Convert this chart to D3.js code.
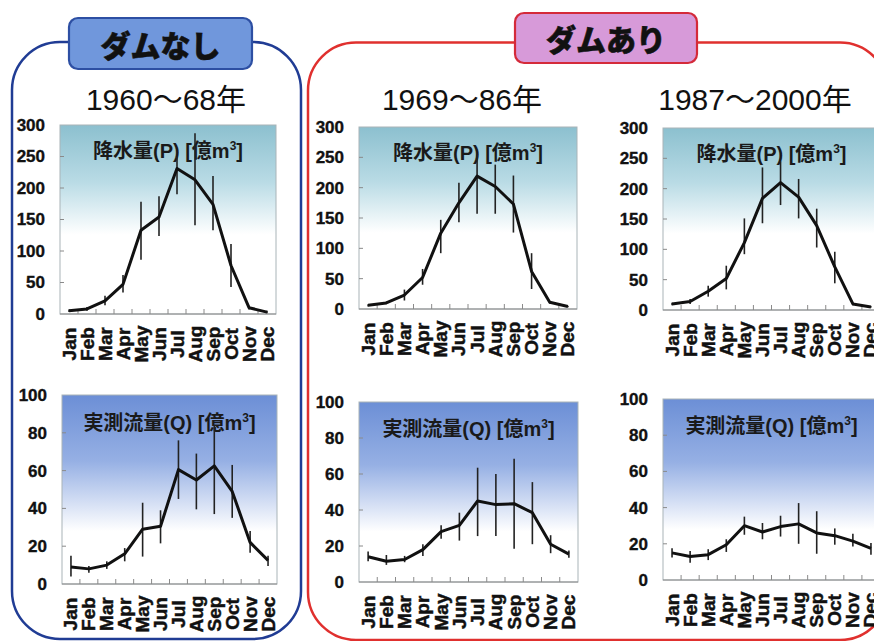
<!DOCTYPE html>
<html>
<head>
<meta charset="utf-8">
<script src="https://cdn.jsdelivr.net/npm/d3@7"></script>
<style>
  html, body { margin: 0; padding: 0; background: #fff; }
  svg { display: block; }
  text { font-family: "Liberation Sans", Arial, "Noto Sans CJK JP", sans-serif; }
</style>
</head>
<body>
<svg id="chart" width="874" height="641"></svg>
<script>
// Monthly categories
const months = ["Jan","Feb","Mar","Apr","May","Jun","Jul","Aug","Sep","Oct","Nov","Dec"];

// Precipitation P [億m3], 1960–68 (mean, upper, lower)
const p1960   = [5, 8, 21, 47, 133, 154, 231, 213, 174, 77, 10, 3];
const p1960Hi = [7, 11, 29, 62, 178, 187, 250, 287, 219, 111, 13, 5];
const p1960Lo = [3, 5, 14, 34, 86, 124, 190, 141, 133, 43, 7, 1];

// Observed discharge Q [億m3], 1960–68
const q1960   = [9, 8, 10, 16, 29, 30.5, 60.5, 55, 62.5, 49, 22, 12.5];
const q1960Hi = [15, 9.5, 12, 19, 43, 39, 76, 69, 84, 63, 28, 15];
const q1960Lo = [4, 6, 8, 12, 14.5, 21.5, 45, 39.5, 37, 35, 16.5, 9.5];

// Precipitation P, 1969–86
const p1969   = [6, 10, 23, 52, 125, 175, 219, 202, 173, 62, 11, 4];
const p1969Hi = [8, 12, 32, 66, 147, 208, 255, 238, 220, 92, 13, 5];
const p1969Lo = [4, 8, 14, 40, 92, 143, 157, 157, 126, 33, 9, 3];

// Observed discharge Q, 1969–86
const q1969   = [14, 11.5, 12.5, 18, 28, 31.5, 45, 43, 43.5, 38.5, 21, 15.5];
const q1969Hi = [17, 15, 14.5, 21, 31.5, 38.5, 63.5, 60, 68.5, 55.5, 26, 17.5];
const q1969Lo = [11.5, 9.5, 11, 14.5, 24, 23, 25.5, 25.5, 18.5, 21, 16, 13.5];

// Precipitation P, 1987–2000
const p1987   = [10, 14, 31, 52, 111, 184, 210, 186, 139, 71, 10, 5];
const p1987Hi = [12, 18, 40, 73, 151, 235, 245, 216, 167, 96, 12, 6];
const p1987Lo = [8, 10, 22, 34, 92, 143, 173, 151, 103, 44, 8, 4];

// Observed discharge Q, 1987–2000
const q1987   = [15, 13, 14, 19.5, 30, 26.5, 29.5, 31, 26, 24.5, 21.5, 17.5];
const q1987Hi = [17.5, 16, 17, 22.5, 35, 31.5, 35.5, 42.5, 38, 28.5, 25.5, 20.5];
const q1987Lo = [12.5, 9.5, 11, 15.5, 25, 22.5, 24, 20, 14.5, 19.5, 18.5, 14];

// Axis ticks
const pTicks = [0, 50, 100, 150, 200, 250, 300];
const qTicks = [0, 20, 40, 60, 80, 100];

// Headings
const groupLabels = ["ダムなし", "ダムあり"];
const periodLabels = ["1960～68年", "1969～86年", "1987～2000年"];
const pTitle = "降水量(P) [億m";
const qTitle = "実測流量(Q) [億m";

const svg = d3.select("#chart");
const defs = svg.append("defs");

// Panel background gradients
const gP = defs.append("linearGradient").attr("id", "gradP")
  .attr("x1", 0).attr("y1", 0).attr("x2", 0).attr("y2", 1);
gP.append("stop").attr("offset", "0%").attr("stop-color", "#8cc0cf");
gP.append("stop").attr("offset", "30%").attr("stop-color", "#b9dbe5");
gP.append("stop").attr("offset", "58%").attr("stop-color", "#ffffff");
gP.append("stop").attr("offset", "100%").attr("stop-color", "#ffffff");

const gQ = defs.append("linearGradient").attr("id", "gradQ")
  .attr("x1", 0).attr("y1", 0).attr("x2", 0).attr("y2", 1);
gQ.append("stop").attr("offset", "0%").attr("stop-color", "#6c8fd6");
gQ.append("stop").attr("offset", "35%").attr("stop-color", "#96b0e4");
gQ.append("stop").attr("offset", "72%").attr("stop-color", "#ffffff");
gQ.append("stop").attr("offset", "100%").attr("stop-color", "#ffffff");

// Rounded frames around the two groups
function frame(x0, y0, x1, y1, r, color) {
  svg.append("rect")
    .attr("x", x0).attr("y", y0)
    .attr("width", x1 - x0).attr("height", y1 - y0)
    .attr("rx", r).attr("ry", r)
    .attr("fill", "none").attr("stroke", color).attr("stroke-width", 2.5);
}
frame(12, 42, 301, 639, 48, "#203c94");
frame(308, 42.5, 888, 640, 48, "#e0302e");

// Group badges
function badge(x0, y0, x1, y1, fill, stroke, label, ty) {
  svg.append("rect")
    .attr("x", x0).attr("y", y0)
    .attr("width", x1 - x0).attr("height", y1 - y0)
    .attr("rx", 9).attr("ry", 9)
    .attr("fill", fill).attr("stroke", stroke).attr("stroke-width", 2.2);
  svg.append("text")
    .attr("x", (x0 + x1) / 2).attr("y", ty)
    .attr("text-anchor", "middle")
    .attr("font-family", "'Noto Sans CJK JP', sans-serif")
    .attr("font-weight", 900).attr("font-size", 30)
    .attr("fill", "#111").attr("stroke", "#111").attr("stroke-width", 0.6)
    .text(label);
}
badge(69, 18, 252, 69, "#7097dc", "#2d4fa3", groupLabels[0], 57);
badge(515, 13, 697, 63, "#d79ad9", "#d42a3a", groupLabels[1], 51);

// Period headings
const headX = [166, 462, 755];
periodLabels.forEach((t, i) => {
  svg.append("text")
    .attr("x", headX[i]).attr("y", 110)
    .attr("text-anchor", "middle")
    .attr("font-size", 30).attr("fill", "#111")
    .text(t);
});

// One panel: background, axes, line and error bars
function panel(cfg) {
  const { x0, x1, y0, y1, max, ticks, grad, title, vals, hi, lo } = cfg;
  const g = svg.append("g");
  const x = d3.scaleBand().domain(months).range([x0, x1]).padding(0);
  const y = d3.scaleLinear().domain([0, max]).range([y1, y0]);

  g.append("rect")
    .attr("x", x0).attr("y", y0)
    .attr("width", x1 - x0).attr("height", y1 - y0)
    .attr("fill", `url(#${grad})`)
    .attr("stroke", "#a9b4b8").attr("stroke-width", 1);

  // y axis labels and inner ticks
  const yAxis = d3.axisLeft(y).tickValues(ticks).tickSize(0).tickPadding(15);
  const ya = g.append("g").attr("transform", `translate(${x0},0)`).call(yAxis);
  ya.select(".domain").remove();
  ya.selectAll("text")
    .attr("font-family", "'Liberation Sans', Arial, sans-serif")
    .attr("font-weight", "bold").attr("font-size", 17).attr("fill", "#111")
    .attr("stroke", "#111").attr("stroke-width", 0.35);
  g.selectAll(".ytick").data(ticks.slice(1, -1)).enter().append("line")
    .attr("x1", x0).attr("x2", x0 + 4)
    .attr("y1", d => y(d)).attr("y2", d => y(d))
    .attr("stroke", "#8a8a8a").attr("stroke-width", 1);

  // x axis line, category boundary ticks and rotated month labels
  g.append("line").attr("x1", x0).attr("x2", x1).attr("y1", y1).attr("y2", y1)
    .attr("stroke", "#8a8a8a").attr("stroke-width", 1.2);
  g.selectAll(".xtick").data(months.slice(1)).enter().append("line")
    .attr("x1", d => x(d)).attr("x2", d => x(d))
    .attr("y1", y1).attr("y2", y1 - 5)
    .attr("stroke", "#8a8a8a").attr("stroke-width", 1);
  g.selectAll(".mlabel").data(months).enter().append("text")
    .attr("transform", d => `translate(${x(d) + x.bandwidth() / 2},${y1 + 30}) rotate(-90)`)
    .attr("text-anchor", "middle").attr("dominant-baseline", "central")
    .attr("font-weight", "bold").attr("font-size", 19).attr("fill", "#111")
    .attr("stroke", "#111").attr("stroke-width", 0.45)
    .text(d => d);

  // panel title
  const t = g.append("text")
    .attr("x", (x0 + x1) / 2).attr("y", y0 + cfg.titleDy)
    .attr("text-anchor", "middle")
    .attr("font-family", "'Liberation Sans', Arial, 'Noto Sans CJK JP', sans-serif")
    .attr("font-weight", "bold").attr("font-size", 20).attr("fill", "#1a1a1a");
  t.append("tspan").text(title);
  t.append("tspan").attr("font-size", 12).attr("dy", -8).text("3");
  t.append("tspan").attr("dy", 8).text("]");

  const cx = d => x(d) + x.bandwidth() / 2;

  // error bars
  g.selectAll(".err").data(months).enter().append("line")
    .attr("x1", cx).attr("x2", cx)
    .attr("y1", (d, i) => y(hi[i])).attr("y2", (d, i) => y(lo[i]))
    .attr("stroke", "#222").attr("stroke-width", 1.6);

  // mean line
  const line = d3.line().x(d => cx(d.m)).y(d => y(d.v));
  g.append("path")
    .datum(months.map((m, i) => ({ m, v: vals[i] })))
    .attr("d", line)
    .attr("fill", "none").attr("stroke", "#111").attr("stroke-width", 3)
    .attr("stroke-linejoin", "round");
}

panel({ x0: 60, x1: 276, y0: 125, y1: 314, max: 300, ticks: pTicks, grad: "gradP",
        title: pTitle, titleDy: 33, vals: p1960, hi: p1960Hi, lo: p1960Lo });
panel({ x0: 62, x1: 277, y0: 395, y1: 584, max: 100, ticks: qTicks, grad: "gradQ",
        title: qTitle, titleDy: 35, vals: q1960, hi: q1960Hi, lo: q1960Lo });
panel({ x0: 359, x1: 577, y0: 127, y1: 309, max: 300, ticks: pTicks, grad: "gradP",
        title: pTitle, titleDy: 33, vals: p1969, hi: p1969Hi, lo: p1969Lo });
panel({ x0: 359, x1: 578, y0: 402, y1: 582, max: 100, ticks: qTicks, grad: "gradQ",
        title: qTitle, titleDy: 34, vals: q1969, hi: q1969Hi, lo: q1969Lo });
panel({ x0: 663, x1: 880, y0: 128, y1: 310, max: 300, ticks: pTicks, grad: "gradP",
        title: pTitle, titleDy: 33, vals: p1987, hi: p1987Hi, lo: p1987Lo });
panel({ x0: 663, x1: 880, y0: 399, y1: 580, max: 100, ticks: qTicks, grad: "gradQ",
        title: qTitle, titleDy: 34, vals: q1987, hi: q1987Hi, lo: q1987Lo });
</script>
</body>
</html>
